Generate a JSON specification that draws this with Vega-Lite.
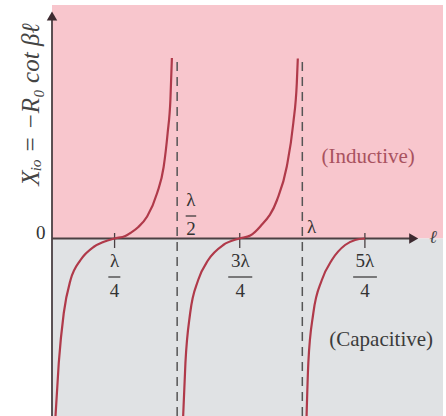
{
  "$schema": "https://vega.github.io/schema/vega-lite/v6.json",
  "width": 391,
  "height": 411,
  "autosize": {"type": "none"},
  "padding": {"left": 52, "top": 5, "right": 3, "bottom": 0},
  "background": "white",
  "config": {"view": {"stroke": null}},
  "encoding": {
    "x": {"field": "l", "type": "quantitative", "scale": {"domain": [0, 1.562], "nice": false, "zero": false}, "axis": null},
    "y": {"field": "v", "type": "quantitative", "scale": {"domain": [-3.55, 4.67], "nice": false, "zero": false},
      "axis": {"values": [0], "title": null, "domain": false, "ticks": false, "grid": false, "labelFont": "Liberation Serif", "labelFontSize": 19, "labelColor": "#333333", "labelPadding": 7, "labelBaseline": "alphabetic"}}
  },
  "layer": [
    {
      "data": {"values": [
        {"zone": "Inductive", "l": 0, "l2": 1.562, "v": 0, "v2": 4.67},
        {"zone": "Capacitive", "l": 0, "l2": 1.562, "v": -3.55, "v2": 0}
      ]},
      "mark": {"type": "rect"},
      "encoding": {
        "x2": {"field": "l2"},
        "y2": {"field": "v2"},
        "color": {"field": "zone", "type": "nominal", "scale": {"domain": ["Inductive", "Capacitive"], "range": ["#f8c6cd", "#e0e2e4"]}, "legend": null}
      }
    },
    {
      "data": {"values": [
        {"l": 0.5, "v": -3.55, "v2": 3.57},
        {"l": 1.0, "v": -3.55, "v2": 3.57}
      ]},
      "mark": {"type": "rule", "color": "#555555", "strokeWidth": 1.5, "strokeDash": [9, 6]},
      "encoding": {"y2": {"field": "v2"}}
    },
    {
      "data": {"values": [{"l": 0, "l2": 1.43, "v": 0}]},
      "mark": {"type": "rule", "color": "#4a4043", "strokeWidth": 1.8},
      "encoding": {"x2": {"field": "l2"}}
    },
    {
      "data": {"values": [{"l": 0, "v": -3.55, "v2": 4.4}]},
      "mark": {"type": "rule", "color": "#4a4043", "strokeWidth": 1.8},
      "encoding": {"y2": {"field": "v2"}}
    },
    {
      "data": {"values": [
        {"l": 0.25, "v": -0.19, "v2": 0.11},
        {"l": 0.75, "v": -0.19, "v2": 0.11},
        {"l": 1.25, "v": -0.19, "v2": 0.11}
      ]},
      "mark": {"type": "rule", "color": "#4a4043", "strokeWidth": 1.3},
      "encoding": {"y2": {"field": "v2"}}
    },
    {
      "data": {"values": [
        {"b": "1", "l": 0.014, "v": -3.55},
        {"b": "1", "l": 0.027, "v": -2.49},
        {"b": "1", "l": 0.047, "v": -1.49},
        {"b": "1", "l": 0.074, "v": -0.83},
        {"b": "1", "l": 0.114, "v": -0.43},
        {"b": "1", "l": 0.166, "v": -0.17},
        {"b": "1", "l": 0.205, "v": -0.07},
        {"b": "1", "l": 0.249, "v": 0},
        {"b": "1", "l": 0.293, "v": 0.05},
        {"b": "1", "l": 0.313, "v": 0.11},
        {"b": "1", "l": 0.345, "v": 0.23},
        {"b": "1", "l": 0.38, "v": 0.44},
        {"b": "1", "l": 0.42, "v": 0.91},
        {"b": "1", "l": 0.446, "v": 1.43},
        {"b": "1", "l": 0.462, "v": 2.11},
        {"b": "1", "l": 0.473, "v": 2.77},
        {"b": "1", "l": 0.479, "v": 3.61},
        {"b": "2", "l": 0.524, "v": -3.55},
        {"b": "2", "l": 0.533, "v": -2.49},
        {"b": "2", "l": 0.552, "v": -1.49},
        {"b": "2", "l": 0.584, "v": -0.83},
        {"b": "2", "l": 0.624, "v": -0.43},
        {"b": "2", "l": 0.684, "v": -0.13},
        {"b": "2", "l": 0.748, "v": 0},
        {"b": "2", "l": 0.792, "v": 0.06},
        {"b": "2", "l": 0.832, "v": 0.24},
        {"b": "2", "l": 0.899, "v": 0.77},
        {"b": "2", "l": 0.938, "v": 1.44},
        {"b": "2", "l": 0.964, "v": 2.31},
        {"b": "2", "l": 0.978, "v": 3.11},
        {"b": "2", "l": 0.982, "v": 3.6},
        {"b": "3", "l": 1.017, "v": -3.55},
        {"b": "3", "l": 1.024, "v": -2.49},
        {"b": "3", "l": 1.044, "v": -1.49},
        {"b": "3", "l": 1.078, "v": -0.83},
        {"b": "3", "l": 1.118, "v": -0.43},
        {"b": "3", "l": 1.171, "v": -0.13},
        {"b": "3", "l": 1.211, "v": -0.03},
        {"b": "3", "l": 1.25, "v": 0}
      ]},
      "mark": {"type": "line", "color": "#b03a4a", "strokeWidth": 2.2, "interpolate": "monotone"},
      "encoding": {"detail": {"field": "b", "type": "nominal"}}
    },
    {
      "data": {"values": [
        {"l": 0.225, "l2": 0.273, "v": -0.77},
        {"l": 0.704, "l2": 0.8, "v": -0.77},
        {"l": 1.203, "l2": 1.298, "v": -0.77},
        {"l": 0.534, "l2": 0.576, "v": 0.45}
      ]},
      "mark": {"type": "rule", "color": "#333333", "strokeWidth": 1.2},
      "encoding": {"x2": {"field": "l2"}}
    },
    {
      "data": {"values": [
        {"t": "λ", "l": 0.25, "v": -0.45},
        {"t": "4", "l": 0.25, "v": -1.05},
        {"t": "3λ", "l": 0.752, "v": -0.45},
        {"t": "4", "l": 0.752, "v": -1.05},
        {"t": "5λ", "l": 1.25, "v": -0.45},
        {"t": "4", "l": 1.25, "v": -1.05},
        {"t": "λ", "l": 0.555, "v": 0.77},
        {"t": "2", "l": 0.555, "v": 0.19},
        {"t": "λ", "l": 1.037, "v": 0.23}
      ]},
      "mark": {"type": "text", "font": "Liberation Serif", "fontSize": 19, "color": "#333333", "baseline": "middle", "align": "center"},
      "encoding": {"text": {"field": "t"}}
    },
    {
      "data": {"values": [{"t": "ℓ", "l": 1.522, "v": 0.02}]},
      "mark": {"type": "text", "font": "DejaVu Serif", "fontStyle": "italic", "fontSize": 18, "color": "#444444", "baseline": "middle", "align": "center"},
      "encoding": {"text": {"field": "t"}}
    },
    {
      "data": {"values": [
        {"s": "up", "l": 0, "v": 4.45},
        {"s": "right", "l": 1.445, "v": 0}
      ]},
      "mark": {"type": "point", "filled": true, "opacity": 1, "color": "#3d2a30", "size": 110},
      "encoding": {"shape": {"field": "s", "type": "nominal", "scale": {"domain": ["up", "right"], "range": ["triangle-up", "triangle-right"]}, "legend": null}}
    },
    {
      "data": {"values": [{"t": "(Inductive)", "l": 1.263, "v": 1.63}]},
      "mark": {"type": "text", "font": "Liberation Serif", "fontSize": 21, "color": "#a9525f", "baseline": "middle", "align": "center"},
      "encoding": {"text": {"field": "t"}}
    },
    {
      "data": {"values": [{"t": "(Capacitive)", "l": 1.315, "v": -2.03}]},
      "mark": {"type": "text", "font": "Liberation Serif", "fontSize": 21, "color": "#3b3b3b", "baseline": "middle", "align": "center"},
      "encoding": {"text": {"field": "t"}}
    },
    {
      "data": {"values": [{"t": "Xᵢₒ = −R₀ cot βℓ", "l": -0.084, "v": 2.68}]},
      "mark": {"type": "text", "font": "Liberation Serif", "fontStyle": "italic", "fontSize": 25, "color": "#444444", "baseline": "middle", "align": "center", "angle": 270, "clip": false},
      "encoding": {"text": {"field": "t"}}
    }
  ]
}
